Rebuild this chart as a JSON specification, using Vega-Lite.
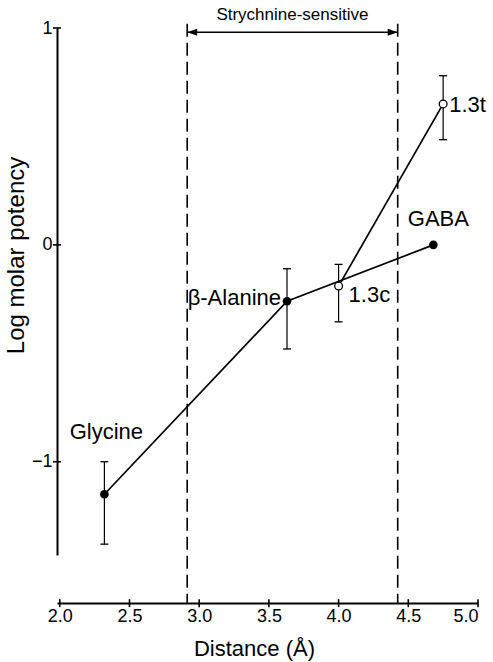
{
  "$schema": "https://vega.github.io/schema/vega-lite/v6.json",
  "autosize": "none",
  "width": 421,
  "height": 527,
  "padding": {"left": 57, "top": 28, "right": 15, "bottom": 107},
  "background": "white",
  "config": {
    "view": {"stroke": null},
    "font": "Liberation Sans",
    "axis": {"grid": false, "ticks": false, "domainColor": "black", "labelColor": "black", "titleColor": "black", "domainWidth": 2, "labelFont": "Liberation Sans", "titleFont": "Liberation Sans", "titleFontWeight": "normal"}
  },
  "datasets": {
    "pts": [
      {"name": "Glycine", "series": "main", "d": 2.32, "p": -1.15, "lo": -1.38, "hi": -1.0, "open": false},
      {"name": "β-Alanine", "series": "main", "d": 3.63, "p": -0.26, "lo": -0.48, "hi": -0.11, "open": false},
      {"name": "GABA", "series": "main", "d": 4.68, "p": 0.0, "lo": null, "hi": null, "open": false},
      {"name": "1.3c", "series": "trans", "d": 4.0, "p": -0.19, "lo": -0.355, "hi": -0.09, "open": true},
      {"name": "1.3t", "series": "trans", "d": 4.75, "p": 0.65, "lo": 0.485, "hi": 0.78, "open": true}
    ],
    "bounds": [
      {"edge": "left", "x": 2.914},
      {"edge": "right", "x": 4.424}
    ],
    "xticks": [{"v": 2.0}, {"v": 2.5}, {"v": 3.0}, {"v": 3.5}, {"v": 4.0}, {"v": 4.5}, {"v": 5.0}],
    "yticks": [{"v": -1}, {"v": 0}, {"v": 1}]
  },
  "layer": [
    {
      "data": {"name": "bounds"},
      "mark": {"type": "rule", "strokeDash": [13, 6], "strokeWidth": 1.6, "color": "black", "clip": false},
      "encoding": {
        "x": {"field": "x", "type": "quantitative", "scale": {"domain": [1.98, 5], "nice": false, "zero": false},
          "axis": {"values": [2.0, 2.5, 3.0, 3.5, 4.0, 4.5, 5.0], "format": ".1f", "offset": 48, "labelFontSize": 18, "labelPadding": 4, "title": "Distance (Å)", "titleFontSize": 22, "titleX": 197, "titleY": 52, "titleBaseline": "alphabetic", "titleAnchor": null}},
        "y": {"datum": 1.02, "type": "quantitative", "scale": {"domain": [-1.43, 1], "nice": false, "zero": false},
          "axis": {"values": [-1, 0, 1], "format": "d", "labelFontSize": 18, "labelPadding": 5, "title": "Log molar potency", "titleFontSize": 24, "titleX": -41, "titleY": 227, "titleAngle": -90, "titleAlign": "center", "titleBaseline": "middle", "titleAnchor": null}},
        "y2": {"datum": -1.65}
      }
    },
    {
      "data": {"name": "xticks"},
      "mark": {"type": "tick", "orient": "vertical", "size": 8, "thickness": 1.6, "color": "black", "opacity": 1, "dy": -4, "clip": false},
      "encoding": {
        "x": {"field": "v", "type": "quantitative"},
        "y": {"datum": -1.652, "type": "quantitative"}
      }
    },
    {
      "data": {"name": "yticks"},
      "mark": {"type": "tick", "orient": "horizontal", "size": 8, "thickness": 1.6, "color": "black", "opacity": 1, "dx": 4, "clip": false},
      "encoding": {
        "x": {"datum": 1.98, "type": "quantitative"},
        "y": {"field": "v", "type": "quantitative"}
      }
    },
    {
      "data": {"name": "bounds"},
      "mark": {"type": "rule", "strokeWidth": 1.5, "color": "black", "clip": false},
      "encoding": {
        "x": {"aggregate": "min", "field": "x", "type": "quantitative"},
        "x2": {"aggregate": "max", "field": "x"},
        "y": {"datum": 0.98, "type": "quantitative"}
      }
    },
    {
      "data": {"name": "bounds"},
      "transform": [{"filter": "datum.edge === 'left'"}],
      "mark": {"type": "point", "shape": "M0,0L1,-0.35L1,0.35Z", "size": 400, "filled": true, "color": "black", "opacity": 1, "dx": 2, "clip": false},
      "encoding": {
        "x": {"field": "x", "type": "quantitative"},
        "y": {"datum": 0.98, "type": "quantitative"}
      }
    },
    {
      "data": {"name": "bounds"},
      "transform": [{"filter": "datum.edge === 'right'"}],
      "mark": {"type": "point", "shape": "M0,0L-1,-0.35L-1,0.35Z", "size": 400, "filled": true, "color": "black", "opacity": 1, "dx": -2, "clip": false},
      "encoding": {
        "x": {"field": "x", "type": "quantitative"},
        "y": {"datum": 0.98, "type": "quantitative"}
      }
    },
    {
      "data": {"name": "bounds"},
      "mark": {"type": "text", "text": "Strychnine-sensitive", "fontSize": 17, "baseline": "middle", "align": "center", "color": "black", "clip": false},
      "encoding": {
        "x": {"aggregate": "mean", "field": "x", "type": "quantitative"},
        "y": {"datum": 1.06, "type": "quantitative"}
      }
    },
    {
      "data": {"name": "pts"},
      "transform": [{"filter": "datum.lo != null"}],
      "mark": {"type": "rule", "strokeWidth": 1.2, "color": "black"},
      "encoding": {
        "x": {"field": "d", "type": "quantitative"},
        "y": {"field": "lo", "type": "quantitative"},
        "y2": {"field": "hi"}
      }
    },
    {
      "data": {"name": "pts"},
      "transform": [{"filter": "datum.lo != null"}],
      "mark": {"type": "tick", "orient": "horizontal", "size": 8, "thickness": 1.3, "color": "black", "opacity": 1},
      "encoding": {
        "x": {"field": "d", "type": "quantitative"},
        "y": {"field": "lo", "type": "quantitative"}
      }
    },
    {
      "data": {"name": "pts"},
      "transform": [{"filter": "datum.lo != null"}],
      "mark": {"type": "tick", "orient": "horizontal", "size": 8, "thickness": 1.3, "color": "black", "opacity": 1},
      "encoding": {
        "x": {"field": "d", "type": "quantitative"},
        "y": {"field": "hi", "type": "quantitative"}
      }
    },
    {
      "data": {"name": "pts"},
      "mark": {"type": "line", "strokeWidth": 1.7, "color": "black"},
      "encoding": {
        "x": {"field": "d", "type": "quantitative"},
        "y": {"field": "p", "type": "quantitative"},
        "detail": {"field": "series"},
        "order": {"field": "d"}
      }
    },
    {
      "data": {"name": "pts"},
      "transform": [{"filter": "!datum.open"}],
      "mark": {"type": "point", "shape": "circle", "filled": true, "size": 75, "color": "black", "opacity": 1},
      "encoding": {
        "x": {"field": "d", "type": "quantitative"},
        "y": {"field": "p", "type": "quantitative"}
      }
    },
    {
      "data": {"name": "pts"},
      "transform": [{"filter": "datum.open"}],
      "mark": {"type": "point", "shape": "circle", "filled": true, "size": 60, "fill": "white", "stroke": "black", "strokeWidth": 1.3, "opacity": 1},
      "encoding": {
        "x": {"field": "d", "type": "quantitative"},
        "y": {"field": "p", "type": "quantitative"}
      }
    },
    {
      "data": {"name": "pts"},
      "transform": [{"filter": "datum.name === 'Glycine'"}],
      "mark": {"type": "text", "fontSize": 22, "align": "center", "baseline": "middle", "dx": 2, "dy": -62, "color": "black"},
      "encoding": {"x": {"field": "d", "type": "quantitative"}, "y": {"field": "p", "type": "quantitative"}, "text": {"field": "name"}}
    },
    {
      "data": {"name": "pts"},
      "transform": [{"filter": "datum.name === 'β-Alanine'"}],
      "mark": {"type": "text", "fontSize": 22, "align": "right", "baseline": "middle", "dx": -6, "dy": -3, "color": "black"},
      "encoding": {"x": {"field": "d", "type": "quantitative"}, "y": {"field": "p", "type": "quantitative"}, "text": {"field": "name"}}
    },
    {
      "data": {"name": "pts"},
      "transform": [{"filter": "datum.name === '1.3c'"}],
      "mark": {"type": "text", "fontSize": 22, "align": "left", "baseline": "middle", "dx": 10, "dy": 9, "color": "black"},
      "encoding": {"x": {"field": "d", "type": "quantitative"}, "y": {"field": "p", "type": "quantitative"}, "text": {"field": "name"}}
    },
    {
      "data": {"name": "pts"},
      "transform": [{"filter": "datum.name === '1.3t'"}],
      "mark": {"type": "text", "fontSize": 22, "align": "left", "baseline": "middle", "dx": 6, "dy": 1, "color": "black"},
      "encoding": {"x": {"field": "d", "type": "quantitative"}, "y": {"field": "p", "type": "quantitative"}, "text": {"field": "name"}}
    },
    {
      "data": {"name": "pts"},
      "transform": [{"filter": "datum.name === 'GABA'"}],
      "mark": {"type": "text", "fontSize": 22, "align": "center", "baseline": "middle", "dx": 5, "dy": -26, "color": "black"},
      "encoding": {"x": {"field": "d", "type": "quantitative"}, "y": {"field": "p", "type": "quantitative"}, "text": {"field": "name"}}
    }
  ]
}
